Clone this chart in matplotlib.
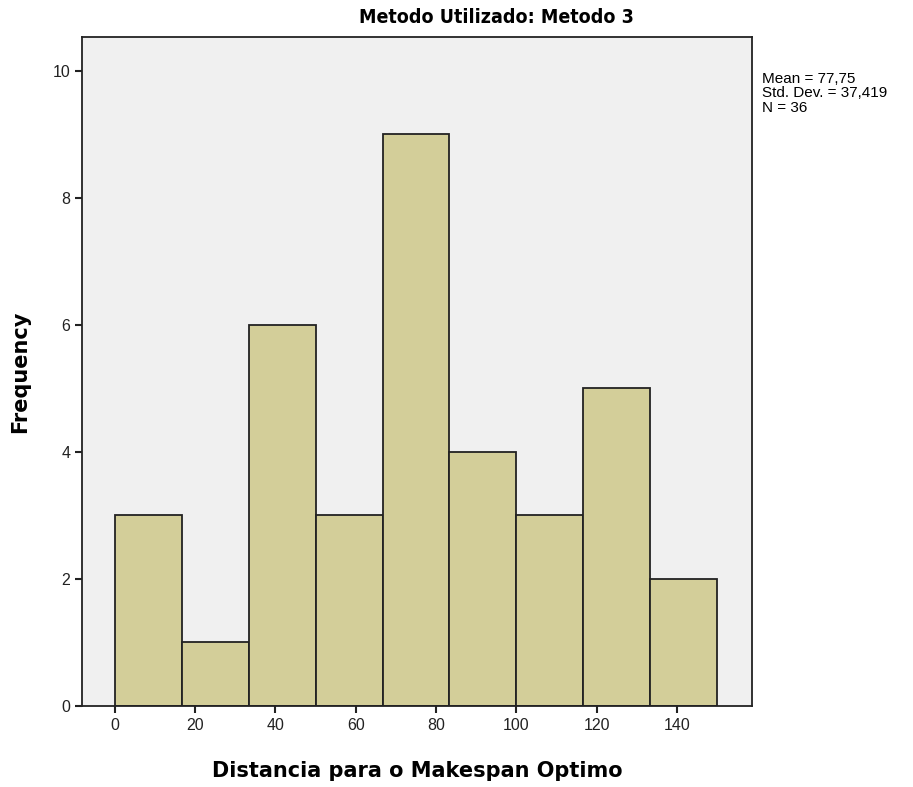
import numpy as np
import matplotlib.pyplot as plt

# histogram bins (Distancia para o Makespan Optimo) and frequencies
bin_edges = [0, 16.67, 33.33, 50, 66.67, 83.33, 100, 116.67, 133.33, 150]
counts = [3, 1, 6, 3, 9, 4, 3, 5, 2]
xticks = [0, 20, 40, 60, 80, 100, 120, 140]
yticks = [0, 2, 4, 6, 8, 10]
stats_text = "Mean = 77,75\nStd. Dev. = 37,419\nN = 36"

fig = plt.figure(figsize=(9.13, 7.87), dpi=100)
ax = fig.add_axes([0.0898, 0.1029, 0.7339, 0.8501])
ax.set_facecolor("#F0F0F0")

edges = np.array(bin_edges)
ax.bar(edges[:-1], counts, width=np.diff(edges), align="edge",
       color="#D3CE99", edgecolor="#222222", linewidth=1.3)

ax.set_xlim(-8.2, 158.7)
ax.set_ylim(0, 10.53)
ax.set_xticks(xticks)
ax.set_yticks(yticks)
ax.tick_params(direction="out", length=5, width=1.5, labelsize=11.5,
               colors="#222222")
for lbl in ax.get_xticklabels() + ax.get_yticklabels():
    lbl.set_fontfamily("Liberation Sans")
for s in ax.spines.values():
    s.set_linewidth(1.3)
    s.set_color("#222222")

ax.set_xlabel("Distancia para o Makespan Optimo", fontsize=15, fontweight="bold",
              labelpad=20)
ax.set_ylabel("Frequency", fontsize=15, fontweight="bold", labelpad=16)

# title sits right of the axes centre, condensed bold
fig.text(0.544, 0.978, "Metodo Utilizado: Metodo 3", fontsize=14,
         fontweight="bold", fontstretch="condensed", family=["DejaVu Sans"],
         ha="center", va="center")

fig.text(0.835, 0.909, stats_text, fontsize=11, family="Liberation Sans",
         va="top", ha="left", linespacing=1.05)

fig.savefig("out.png", dpi=100)
